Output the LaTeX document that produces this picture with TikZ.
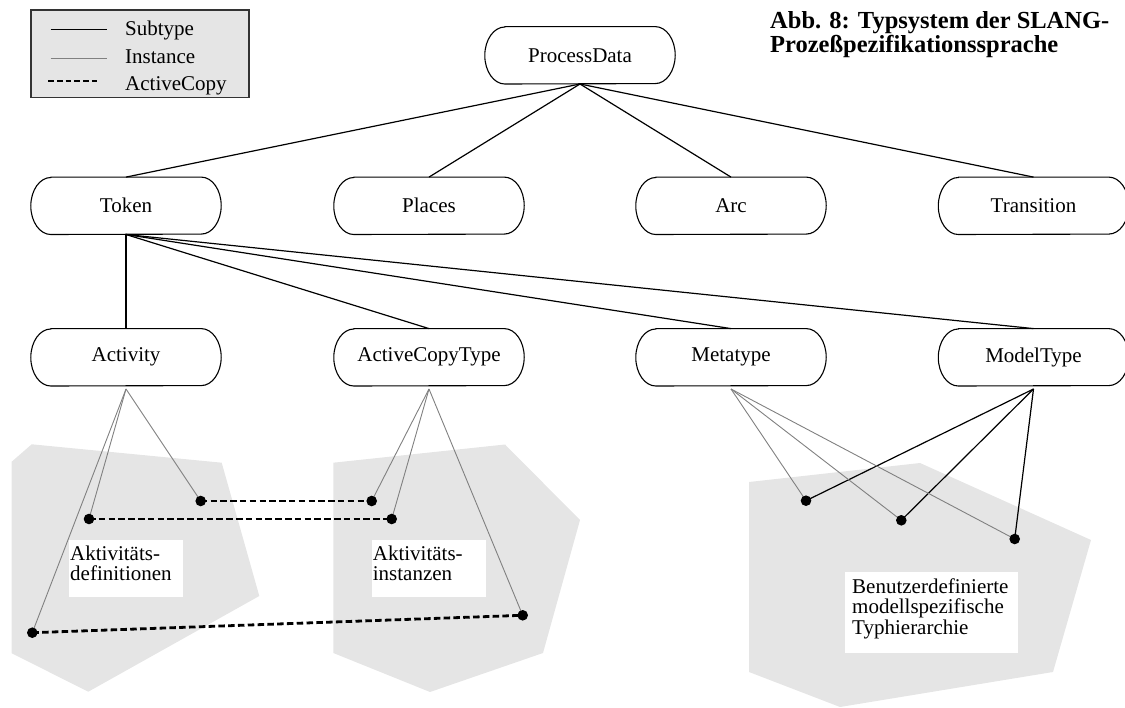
\documentclass[tikz,border=0pt]{standalone}
\usepackage{fontspec}
\setmainfont{Liberation Serif}
\definecolor{regiongray}{HTML}{E5E5E5}
\definecolor{instgray}{HTML}{808080}
\definecolor{framegray}{HTML}{333333}
% outline of a type box: straight top and bottom, elliptic ends
\newcommand\typeoutline[1]{%
  \draw[boxline] ([xshift=20pt]#1.north west) -- ([xshift=-20pt]#1.north east)
    arc[start angle=90, end angle=-90, x radius=20pt, y radius=28.5pt]
    -- ([xshift=20pt]#1.south west)
    arc[start angle=270, end angle=90, x radius=20pt, y radius=28.5pt] -- cycle;}
\begin{document}
\begin{tikzpicture}[x=1pt, y=1pt,
  lbl/.style={font=\fontsize{21}{20.5}\selectfont, inner sep=0pt},
  typebox/.style={lbl, minimum width=190pt, minimum height=57pt},
  boxline/.style={line width=1.1pt, black},
  subtype/.style={line width=1.2pt, black},
  instance/.style={line width=0.9pt, instgray},
  copyline/.style={line width=2.8pt, black, dash pattern=on 6.5pt off 3.3pt},
  region/.style={fill=regiongray},
  note/.style={lbl, anchor=north west, align=left},
  legendtext/.style={lbl, anchor=base west},
  titletext/.style={font=\fontsize{24.5}{21}\selectfont\bfseries, inner sep=0pt, anchor=base west},
]
\useasboundingbox (0,0) rectangle (1125,-708);
\clip (0,0) rectangle (1125,-708);

% grey regions of the lower level
\path[region] (11.7,-461.7) -- (31.7,-444.3) -- (221.7,-462.7) -- (259.3,-596)
  -- (88.3,-691.7) -- (11.7,-653.3) -- cycle;
\path[region] (333.3,-462.7) -- (505,-444.5) -- (580,-520) -- (543,-653)
  -- (430,-692) -- (333.3,-653) -- cycle;
\path[region] (749,-482) -- (920,-463) -- (1091,-540) -- (1053,-672)
  -- (840,-707) -- (749,-672) -- cycle;

% white label panels and their texts
\fill[white] (69,-540) rectangle (183,-596.7);
\node[note] (defs) at (70,-545.7) {Aktivitäts-\\definitionen};
\fill[white] (371.7,-540) rectangle (485.7,-596.7);
\node[note] (insts) at (372.7,-545.7) {Aktivitäts-\\instanzen};
\fill[white] (845,-571.7) rectangle (1017.7,-652.7);
\node[note] (usr) at (852,-578.4) {Benutzerdefinierte\\modellspezifische\\Typhierarchie};

% legend
\node[draw=framegray, fill=regiongray, line width=1.5pt, minimum width=218pt,
  minimum height=87.4pt, inner sep=0pt, anchor=north west] (legend) at (30,-9.3) {};
\draw[subtype] (50.7,-29.3) -- (106.7,-29.3);
\draw[instance] (50.7,-58.3) -- (106.7,-58.3);
\draw[copyline, line width=2.2pt, dash pattern=on 5.5pt off 3.2pt] (48.3,-80.7) -- (100,-80.7);
\node[legendtext] (lsub) at (125,-35.5) {Subtype};
\node[legendtext] (linst) at (125,-64) {Instance};
\node[legendtext] (lcopy) at (125,-90.5) {ActiveCopy};

% title
\node[titletext] (title1) at (770,-29) {Abb. 8: Typsystem der SLANG-};
\node[titletext] (title2) at (770,-52.5) {Prozeßpezifikationssprache};

% type nodes
\node[typebox] (pd) at (580,-55.3) {ProcessData};
\node[typebox] (tok) at (126,-205.8) {Token};
\node[typebox] (pla) at (429,-205.8) {Places};
\node[typebox] (arc) at (731,-205.8) {Arc};
\node[typebox] (tra) at (1033.5,-205.8) {Transition};
\node[typebox] (act) at (126,-357.3) {Activity};
\node[typebox] (act2) at (429,-357.3) {ActiveCopyType};
\node[typebox] (meta) at (731,-357.3) {Metatype};
\node[typebox] (model) at (1033.5,-357.3) {ModelType};
\foreach \n in {pd,tok,pla,arc,tra,act,act2,meta,model} {\typeoutline{\n}}

% instance points
\coordinate (a1) at (200.7,-501);
\coordinate (a2) at (89,-519);
\coordinate (a3) at (32.3,-632.7);
\coordinate (b1) at (371.7,-501);
\coordinate (b2) at (391.7,-519);
\coordinate (b3) at (522.7,-615.3);
\coordinate (c1) at (806,-500.7);
\coordinate (c2) at (901.3,-520.3);
\coordinate (c3) at (1014.7,-539);

% start points of the lower connectors, just below the boxes
\coordinate (actS) at ([yshift=-3pt]act.south);
\coordinate (act2S) at ([yshift=-3pt]act2.south);
\coordinate (metaS) at ([yshift=-3pt]meta.south);
\coordinate (modelS) at ([yshift=-3pt]model.south);

% subtype relations
\foreach \t in {tok,pla,arc,tra} {\draw[subtype] (pd.south) -- (\t.north);}
\foreach \t in {act,act2,meta,model} {\draw[subtype] (tok.south) -- (\t.north);}
\foreach \t in {c1,c2,c3} {\draw[subtype] (modelS) -- (\t);}

% instance relations
\foreach \t in {a1,a2,a3} {\draw[instance] (actS) -- (\t);}
\foreach \t in {b1,b2,b3} {\draw[instance] (act2S) -- (\t);}
\foreach \t in {c1,c2,c3} {\draw[instance] (metaS) -- (\t);}

% active copies
\draw[copyline] (a1) -- (b1);
\draw[copyline] (a2) -- (b2);
\draw[copyline] (a3) -- (b3);

\foreach \d in {a1,a2,a3,b1,b2,b3,c1,c2,c3} {\fill (\d) circle[radius=5.3pt];}
\end{tikzpicture}
\end{document}
